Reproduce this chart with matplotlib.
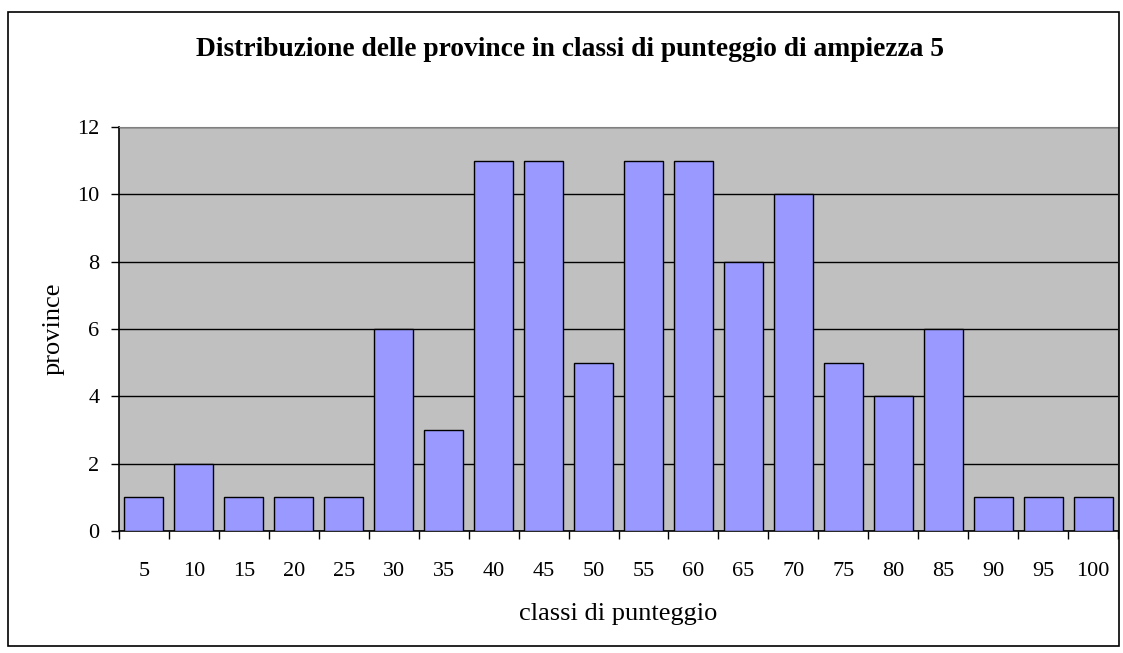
import numpy as np
import matplotlib.pyplot as plt
from matplotlib.patches import Rectangle

classes = ["5", "10", "15", "20", "25", "30", "35", "40", "45", "50",
           "55", "60", "65", "70", "75", "80", "85", "90", "95", "100"]
counts = [1, 2, 1, 1, 1, 6, 3, 11, 11, 5, 11, 11, 8, 10, 5, 4, 6, 1, 1, 1]

plt.rcParams['font.family'] = ['Liberation Serif', 'DejaVu Serif']

fig = plt.figure(figsize=(11.23, 6.53), dpi=100)
W, H = 1123, 653
ax = fig.add_axes([119 / W, 1 - 531 / H, (1118 - 119) / W, (531 - 127) / H])

# outer chart frame
fig.patches.append(Rectangle((8 / W, 1 - 646 / H), (1119 - 8) / W, (646 - 12) / H,
                             transform=fig.transFigure, fill=False,
                             edgecolor="black", linewidth=1.2))

x = np.arange(len(classes))
ax.set_facecolor("#c0c0c0")
ax.bar(x, counts, width=0.78, color="#9999ff", edgecolor="black", linewidth=1.0, zorder=3)

ax.set_xlim(-0.5, len(classes) - 0.5)
ax.set_ylim(0, 12)
ax.set_yticks(range(0, 13, 2))
ax.yaxis.grid(True, color="black", linewidth=1.0)
ax.set_axisbelow(True)

ax.set_xticks(x)
ax.set_xticklabels(classes)
ax.set_xticks(np.arange(-0.5, len(classes)), minor=True)
ax.tick_params(axis="x", which="major", length=0, pad=22, labelsize=16)
ax.tick_params(axis="x", which="minor", length=6, width=1.0, direction="out")
ax.tick_params(axis="y", length=6, width=1.0, labelsize=16, pad=8)

ax.spines["top"].set_color("#808080")
ax.spines["right"].set_color("#808080")
ax.spines["left"].set_linewidth(1.2)
ax.spines["bottom"].set_linewidth(1.2)

fig.text(618 / W, 1 - 614 / H, "classi di punteggio", ha="center", va="center", fontsize=19)
fig.text(54 / W, 1 - 329 / H, "province", ha="center", va="center", rotation=90, fontsize=19)
fig.text(570 / W, 1 - 50 / H,
         "Distribuzione delle province in classi di punteggio di ampiezza 5",
         ha="center", va="center", fontsize=19.8, fontweight="bold")

fig.savefig("out.png", dpi=100)
